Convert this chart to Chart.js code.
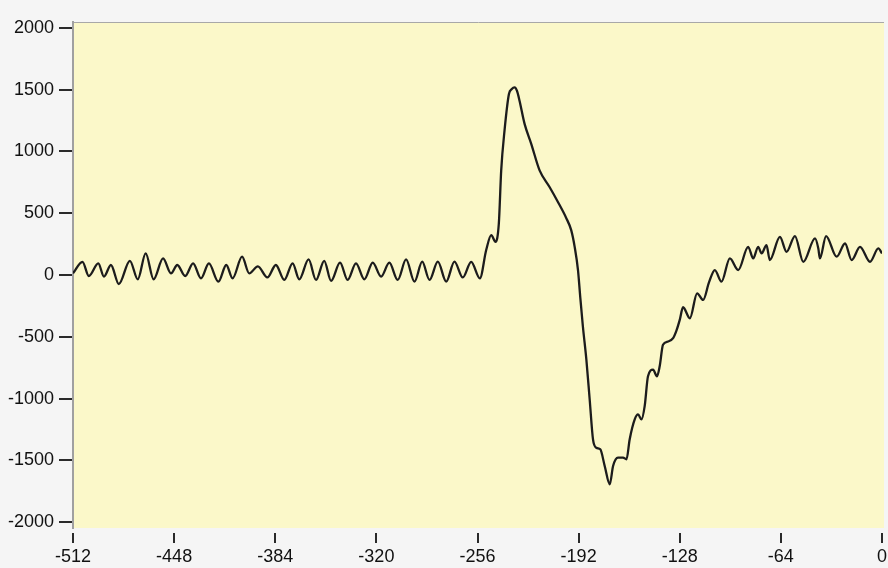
<!DOCTYPE html>
<html>
<head>
<meta charset="utf-8">
<script src="https://cdn.jsdelivr.net/npm/chart.js@4.4.1/dist/chart.umd.min.js"></script>
<style>
  html, body { margin: 0; padding: 0; background: #f5f5f5; }
  #wrap { width: 888px; height: 568px; }
</style>
</head>
<body>
<div id="wrap"><canvas id="c" width="888" height="568"></canvas></div>
<script>
// sample index (x) and amplitude (y)
const sampleIdx = [
  -512, -506, -502, -496, -492.4, -488, -483, -476, -471, -466, -461, -455, -450, -446, -441,
  -436, -431, -426, -420, -415, -411, -405, -400.5, -395, -389, -383.6,
  -378.3, -373, -368.8, -362.9, -358.2, -353, -348.7, -343, -338.2, -332.9, -327.6, -322.3,
  -317, -311.8, -306.5, -301.2, -295.9, -291, -286.4, -281.1, -275.8, -270.6, -265.3, -260,
  -254.5, -250.5, -247.3, -244.6, -242.5, -241, -238.9, -236.1, -234.3, -232.5, -231, -229.4,
  -226.2, -222, -216.7, -210.4, -205.1, -199.8, -196.7, -194.5, -192.4, -190.9, -189.3,
  -187.1, -185, -182.9, -180.8, -178.3, -175.5, -172.3, -170.2, -167.1, -163.9, -161.7,
  -159.7, -156.5, -154.4, -152.2, -150.2, -148.1, -144.9, -142.4, -140.7, -138.6, -135.4,
  -132.2, -130.1, -128, -125.9, -121.6, -117, -113.2, -109.5, -105.8, -101.6, -96.3, -91,
  -84.7, -81.5, -78.4, -76.2, -73.1, -71, -64.6, -60.4, -55.1, -49.8, -42.4, -40.3, -39.3,
  -35.4, -28.7, -23.4, -19.2, -13.9, -7.6, -2.3, 0
];
const amplitude = [
  14, 107, -8, 94, -13, 81, -73, 115, -35, 175, -35, 134, 13, 81, -8,
  94, -27, 94, -54, 81, -27, 148, 13, 70, -20, 81,
  -40, 94, -35, 126, -40, 115, -48, 100, -40, 94, -35, 100,
  -13, 100, -40, 126, -54, 108, -40, 108, -54, 108, -20, 107,
  -27, 202, 323, 269, 417, 847, 1169, 1465, 1505, 1519, 1490, 1411,
  1223, 1062, 847, 712, 591, 460, 363, 228, 40, -190, -417,
  -685, -1008, -1331, -1398, -1411, -1546, -1694, -1546, -1478, -1478, -1492,
  -1331, -1169, -1129, -1169, -1062, -820, -766, -820, -739, -565, -538,
  -511, -450, -363, -261, -350, -148, -202, -60, 40, -54, 134, 40,
  228, 134, 228, 175, 242, 121, 309, 188, 315, 107, 296, 215, 134,
  315, 148, 255, 121, 228, 107, 215, 175
];
const xTicks = [-512, -448, -384, -320, -256, -192, -128, -64, 0];
const yTicks = [2000, 1500, 1000, 500, 0, -500, -1000, -1500, -2000];

const points = sampleIdx.map((x, i) => ({ x: x, y: amplitude[i] }));

const FONT = "'Liberation Sans', Arial, sans-serif";

const frame = {
  id: 'frame',
  beforeDraw(chart) {
    const { ctx, chartArea: a } = chart;
    ctx.save();
    ctx.fillStyle = '#f5f5f5';
    ctx.fillRect(0, 0, chart.width, chart.height);
    ctx.fillStyle = '#fbf8c9';
    ctx.fillRect(a.left, a.top, a.right - a.left + 2, a.bottom - a.top);
    ctx.strokeStyle = '#a8a8a8';
    ctx.lineWidth = 1;
    ctx.beginPath();
    ctx.moveTo(a.left, a.top + 0.5);
    ctx.lineTo(a.right + 2, a.top + 0.5);
    ctx.stroke();
    ctx.restore();
  },
  afterDraw(chart) {
    const { ctx, chartArea: a, scales } = chart;
    ctx.save();
    ctx.strokeStyle = '#2a2a2a';
    ctx.lineWidth = 2;
    ctx.beginPath();
    scales.y.ticks.forEach(t => {
      const py = Math.round(scales.y.getPixelForValue(t.value));
      ctx.moveTo(a.left - 14, py);
      ctx.lineTo(a.left - 1, py);
    });
    scales.x.ticks.forEach(t => {
      const px = Math.round(scales.x.getPixelForValue(t.value));
      ctx.moveTo(px, a.bottom + 5);
      ctx.lineTo(px, a.bottom + 15);
    });
    ctx.stroke();
    ctx.restore();
  }
};

new Chart(document.getElementById('c'), {
  type: 'line',
  data: {
    datasets: [{
      data: points,
      borderColor: '#1c1c1c',
      borderWidth: 2.3,
      pointRadius: 0,
      fill: false,
      cubicInterpolationMode: 'monotone'
    }]
  },
  options: {
    responsive: false,
    animation: false,
    events: [],
    layout: { padding: { top: 22, right: 6, left: 0, bottom: 0 } },
    plugins: { legend: { display: false }, tooltip: { enabled: false } },
    scales: {
      x: {
        type: 'linear',
        min: -512,
        max: 0,
        afterBuildTicks: s => { s.ticks = xTicks.map(v => ({ value: v })); },
        afterFit: s => { s.height = 40; s.paddingLeft = 0; s.paddingRight = 0; },
        grid: { display: true, drawOnChartArea: false, drawTicks: false },
        border: { display: false },
        ticks: {
          padding: 18,
          color: '#111',
          font: { family: FONT, size: 18 },
          maxRotation: 0,
          autoSkip: false,
          callback: v => String(v)
        }
      },
      y: {
        type: 'linear',
        min: -2048,
        max: 2048,
        afterBuildTicks: s => { s.ticks = yTicks.map(v => ({ value: v })); },
        afterFit: s => { s.width = 73; s.paddingTop = 0; s.paddingBottom = 0; },
        grid: { display: true, drawOnChartArea: false, drawTicks: false },
        border: { display: true, color: '#a0a0a0', width: 2 },
        ticks: {
          padding: 19,
          color: '#111',
          font: { family: FONT, size: 18 },
          autoSkip: false,
          callback: v => String(v)
        }
      }
    }
  },
  plugins: [frame]
});
</script>
</body>
</html>
